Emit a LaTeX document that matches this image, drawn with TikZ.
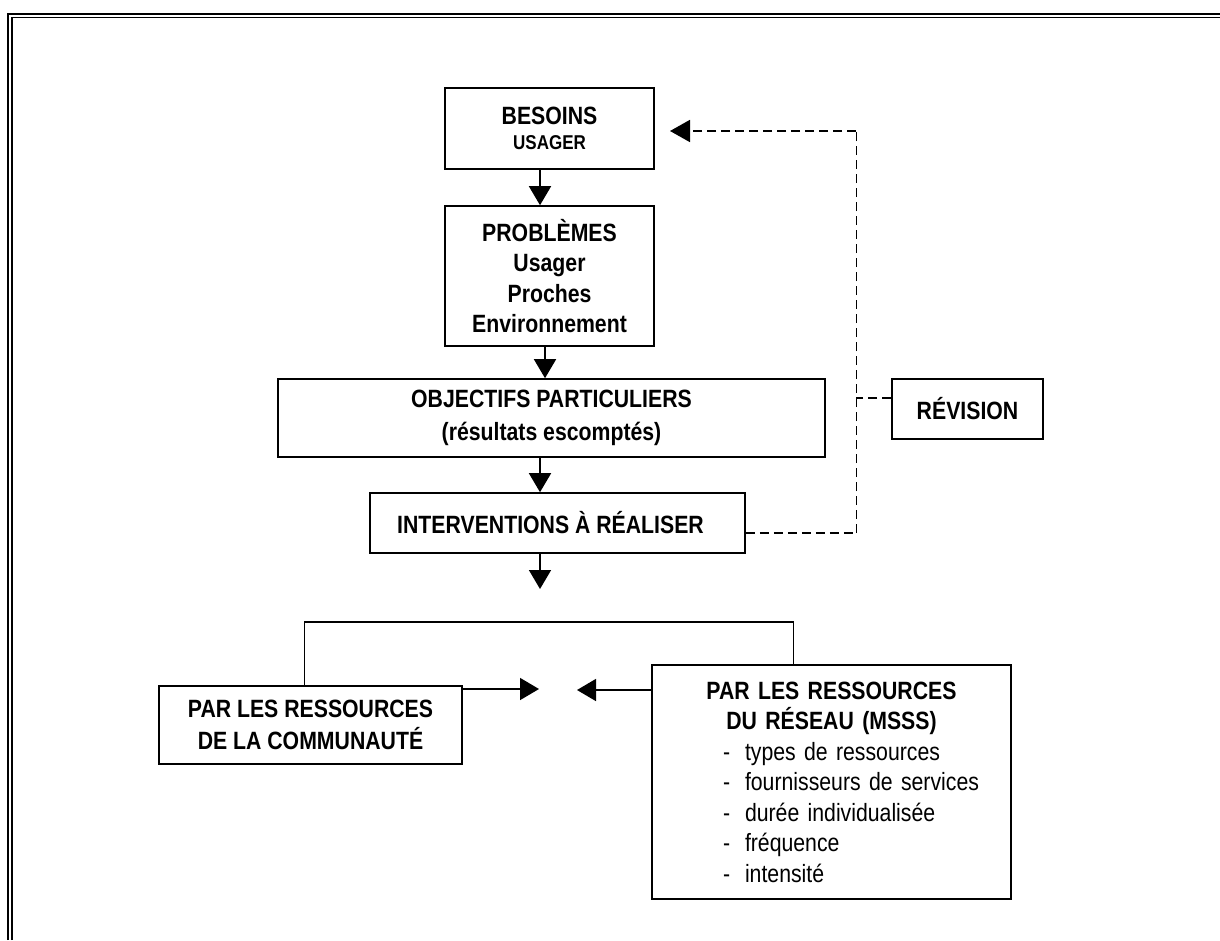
\documentclass[tikz,border=0pt]{standalone}
\usepackage{fontspec}
\setmainfont{Liberation Sans}[FakeStretch=0.85]
\usetikzlibrary{arrows.meta}

\newcommand\puce[1]{\hspace*{71pt}\makebox[22pt][l]{-}#1}

\begin{document}
\begin{tikzpicture}[x=1pt,y=-1pt,
	boite/.style={draw,line width=1.6pt,inner sep=0pt,align=center},
	fleche/.style={line width=1.6pt,-{Triangle[length=19pt,width=22pt]}},
	tiret/.style={line width=1.8pt,dash pattern=on 9pt off 5pt}]

	\useasboundingbox (0,0) rectangle (1220,940);
	% cadre double
	\draw[line width=2pt] (8.3,940) -- (8.3,13.5) -- (1220,13.5);
	\draw[line width=1.5pt] (12,940) -- (12,17.5) -- (1220,17.5);

	\node[boite,minimum width=209,minimum height=81,font=\bfseries\fontsize{25}{25}\selectfont] (besoins) at (549.5,128.5) {BESOINS\\{\fontsize{20}{25}\selectfont USAGER}};
	\node[boite,minimum width=209,minimum height=140,font=\bfseries\fontsize{25}{30.5}\selectfont] (problemes) at (549.5,276) {PROBLÈMES\\Usager\\Proches\\Environnement};
	\node[boite,minimum width=547,minimum height=78,font=\bfseries\fontsize{25}{33}\selectfont] (objectifs) at (551.5,418) {OBJECTIFS PARTICULIERS\\(résultats escomptés)};
	\node[boite,minimum width=375,minimum height=60,font=\bfseries\fontsize{25}{30}\selectfont] (interventions) at (557.5,523) {INTERVENTIONS À RÉALISER\hspace*{14pt}};
	\node[boite,minimum width=151,minimum height=60,font=\bfseries\fontsize{25}{30}\selectfont] (revision) at (967.5,409) {RÉVISION};

	\node[boite,minimum width=303,minimum height=78,font=\bfseries\fontsize{25}{32}\selectfont] (communaute) at (310.5,725) {PAR LES RESSOURCES\\DE LA COMMUNAUTÉ};
	\node[boite,minimum width=359,minimum height=234,text width=359pt,align=left,font=\fontsize{25}{30.5}\selectfont] (reseau) at (831.5,782) {%
		\makebox[359pt]{\bfseries PAR LES RESSOURCES}\\
		\makebox[359pt]{\bfseries DU RÉSEAU (MSSS)}\\
		\puce{types de ressources}\\
		\puce{fournisseurs de services}\\
		\puce{durée individualisée}\\
		\puce{fréquence}\\
		\puce{intensité}};

	\coordinate (axe) at (540,0);
	\coordinate (suite) at (540,589);
	\draw[fleche] (besoins.south -| axe) -- (problemes.north -| axe);
	\draw[fleche] ([xshift=-4.5pt]problemes.south) -- ([xshift=-4.5pt]problemes.south |- objectifs.north);
	\draw[fleche] (objectifs.south -| axe) -- (interventions.north -| axe);
	\draw[fleche] (interventions.south -| suite) -- (suite);

	% boucle de revision
	\coordinate (bas) at (856,533);
	\coordinate (coin) at (856,131);
	\coordinate (milieu) at (856,398);
	\coordinate (retour) at (670,131);
	\draw[tiret] (interventions.east |- bas) -- (bas);
	\draw[tiret,line width=1pt] (bas) -- (coin);
	\draw[tiret,-{Triangle[length=20pt,width=22pt]}] (coin) -- (retour);
	\draw[tiret] (revision.west |- milieu) -- (milieu);

	\coordinate (pointeg) at (539,689);
	\coordinate (pointed) at (577,690);
	\draw[line width=1.6pt] ([xshift=-6pt]communaute.north) -- ++(0,-63) -| ([xshift=-38pt]reseau.north);
	\draw[fleche] (communaute.east |- pointeg) -- (pointeg);
	\draw[fleche] (reseau.west |- pointed) -- (pointed);
\end{tikzpicture}
\end{document}
